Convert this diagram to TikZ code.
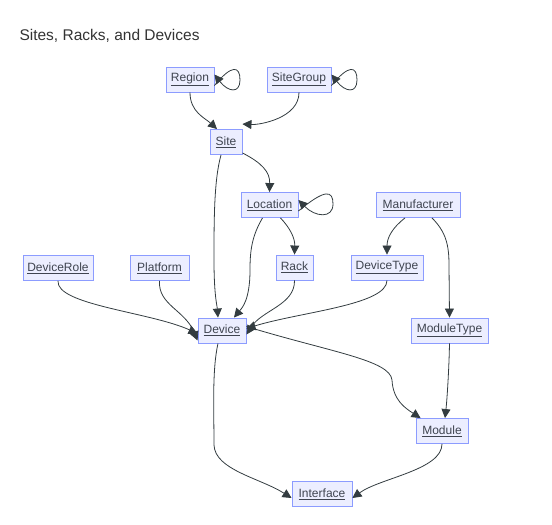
\documentclass[tikz,border=0pt]{standalone}
\usepackage{fontspec}
\setmainfont{Liberation Sans}
\usetikzlibrary{arrows.meta}
\definecolor{nodefill}{HTML}{ECEEFF}
\definecolor{nodeline}{HTML}{8C9CFF}
\definecolor{edgecol}{HTML}{333C40}
\definecolor{txtcol}{HTML}{3F4450}
\tikzset{
  ent/.style={draw=nodeline, fill=nodefill, line width=0.9pt, minimum height=25pt,
    inner sep=0pt, text=txtcol, font=\fontsize{12}{14}\selectfont},
  conn/.style={draw=edgecol, line width=0.8pt, -{Triangle[length=9pt,width=9pt]}},
}
\newcommand{\lnk}[1]{\underline{#1}}
\begin{document}
\begin{tikzpicture}[x=1pt,y=-1pt]
\useasboundingbox (0,0) rectangle (552,525);
\node[anchor=west, text=black!80, font=\fontsize{15.5}{18}\selectfont] (title) at (16,36) {Sites, Racks, and Devices};

\node[ent, minimum width=48pt] (region) at (190,79.5) {\lnk{Region}};
\node[ent, minimum width=64pt] (sitegroup) at (299,79.5) {\lnk{SiteGroup}};
\node[ent, minimum width=32pt] (site) at (226,142) {\lnk{Site}};
\node[ent, minimum width=57pt] (location) at (269.5,205) {\lnk{Location}};
\node[ent, minimum width=84pt] (manufacturer) at (418,205) {\lnk{Manufacturer}};
\node[ent, minimum width=70pt] (devicerole) at (58,268) {\lnk{DeviceRole}};
\node[ent, minimum width=59pt] (platform) at (159.5,268) {\lnk{Platform}};
\node[ent, minimum width=37pt] (rack) at (294.5,267.5) {\lnk{Rack}};
\node[ent, minimum width=72pt] (devicetype) at (387,267.5) {\lnk{DeviceType}};
\node[ent, minimum width=48pt] (device) at (222,330.5) {\lnk{Device}};
\node[ent, minimum width=77pt] (moduletype) at (449.5,330.5) {\lnk{ModuleType}};
\node[ent, minimum width=52pt] (module) at (442,431) {\lnk{Module}};
\node[ent, minimum width=60pt] (interface) at (322,494) {\lnk{Interface}};

% self loops
\draw[conn] ([yshift=-6pt]region.east) .. controls (232,64) and (240,66) .. (240,80) .. controls (240,94) and (228,92) .. ([yshift=5pt]region.east);
\draw[conn] ([yshift=-6pt]sitegroup.east) .. controls (349,64) and (357,66) .. (357,80) .. controls (357,94) and (345,92) .. ([yshift=5pt]sitegroup.east);
\draw[conn] ([yshift=-6pt]location.east) .. controls (325,189) and (333,190) .. (333,204) .. controls (333,219) and (315,217) .. ([yshift=5pt]location.east);

% edges
\draw[conn] (region.south) .. controls (190,112) and (205,118) .. ([xshift=-9pt]site.north);
\draw[conn] (sitegroup.south) .. controls (299,118) and (260,125) .. ([yshift=5pt]site.north east);
\draw[conn] ([xshift=-5pt]site.south) .. controls (214,180) and (214,220) .. (214,260) .. controls (214,295) and (217,305) .. ([xshift=-4pt]device.north);
\draw[conn] ([yshift=2pt]site.south east) .. controls (262,163) and (270,172) .. (location.north);
\draw[conn] ([xshift=-7pt]location.south) .. controls (252,236) and (250,250) .. (250,270) .. controls (250,300) and (242,308) .. ([xshift=12pt]device.north);
\draw[conn] ([xshift=11pt]location.south) .. controls (290,228) and (295,238) .. (rack.north);
\draw[conn] (rack.south) .. controls (295,305) and (262,310) .. ([yshift=-4pt]device.east);
\draw[conn] (devicetype.south) .. controls (387,305) and (300,312) .. ([yshift=2pt]device.east);
\draw[conn] ([xshift=-13pt]manufacturer.south) .. controls (392,228) and (387,238) .. (devicetype.north);
\draw[conn] ([xshift=14pt]manufacturer.south) .. controls (446,232) and (449,245) .. (449,265) -- (moduletype.north);
\draw[conn] (devicerole.south) .. controls (56,305) and (150,312) .. ([yshift=-3pt]device.west);
\draw[conn] (platform.south) .. controls (158,305) and (185,310) .. ([yshift=-10pt]device.west);
\draw[conn] ([yshift=4pt]device.east) .. controls (330,352) and (390,360) .. (392,380) .. controls (393,400) and (405,408) .. ([xshift=5pt]module.north west);
\draw[conn] (moduletype.south) .. controls (449,370) and (447,400) .. ([xshift=3pt]module.north);
\draw[conn] ([xshift=-4pt]device.south) .. controls (212,370) and (214,410) .. (214,445) .. controls (215,470) and (260,478) .. ([yshift=-4pt]interface.west);
\draw[conn] (module.south) .. controls (442,470) and (380,478) .. ([yshift=-4pt]interface.east);
\end{tikzpicture}
\end{document}
